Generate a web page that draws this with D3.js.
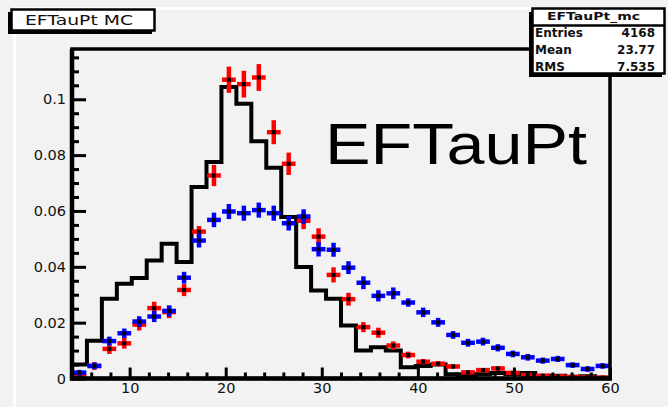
<!DOCTYPE html>
<html>
<head>
<meta charset="utf-8">
<script src="https://cdn.jsdelivr.net/npm/d3@7"></script>
<style>
  html, body { margin: 0; padding: 0; background: #f2f2f2; }
  svg { display: block; }
</style>
</head>
<body>
<svg id="chart" width="668" height="407"></svg>
<script>
// Binning of the EFTauPt histograms (GeV)
const xMin = 4, xMax = 60, nBins = 36;

// MC reference histogram (black step line)
const mcValues = [
  0.0050, 0.0135, 0.0286, 0.0339, 0.0360, 0.0423, 0.0483, 0.0417, 0.0686, 0.0775,
  0.1044, 0.0984, 0.0850, 0.0755, 0.0578, 0.0399, 0.0315, 0.0286, 0.0190, 0.0100,
  0.0112, 0.0100, 0.0040, 0.0045, 0.0050, 0.0015, 0.0010, 0.0015, 0.0020, 0.0015,
  0.0020, 0.0008, 0.0010, 0.0005, 0.0008, 0.0003
];

// Red points with vertical errors
const redValues = [
  0.0009, 0.0045, 0.0106, 0.0126, 0.0193, 0.0252, 0.0238, 0.0317, 0.0526, 0.0727,
  0.1070, 0.1054, 0.1078, 0.0882, 0.0769, 0.0565, 0.0508, 0.0371, 0.0284, 0.0184,
  0.0164, 0.0118, 0.0084, 0.0060, 0.0053, 0.0043, 0.0022, 0.0030, 0.0036, 0.0020,
  0.0012, 0.0010, 0.0008, 0.0006, 0.0004, 0.0003
];
const redErrors = [
  0.0006, 0.0014, 0.0018, 0.0019, 0.0021, 0.0023, 0.0022, 0.0022, 0.0020, 0.0038,
  0.0047, 0.0048, 0.0048, 0.0043, 0.0040, 0.0030, 0.0030, 0.0027, 0.0023, 0.0018,
  0.0018, 0.0015, 0.0012, 0.0010, 0.0009, 0.0008, 0.0006, 0.0007, 0.0008, 0.0006,
  0.0005, 0.0004, 0.0004, 0.0003, 0.0003, 0.0002
];

// Blue points with vertical errors
const blueValues = [
  0.0021, 0.0045, 0.0134, 0.0162, 0.0204, 0.0222, 0.0242, 0.0361, 0.0494, 0.0568,
  0.0598, 0.0592, 0.0603, 0.0592, 0.0556, 0.0580, 0.0463, 0.0461, 0.0397, 0.0343,
  0.0296, 0.0305, 0.0272, 0.0237, 0.0201, 0.0156, 0.0128, 0.0132, 0.0110, 0.0088,
  0.0076, 0.0064, 0.0070, 0.0048, 0.0034, 0.0045
];
const blueErrors = [
  0.0010, 0.0012, 0.0016, 0.0017, 0.0019, 0.0020, 0.0020, 0.0021, 0.0025, 0.0026,
  0.0027, 0.0027, 0.0027, 0.0027, 0.0026, 0.0026, 0.0026, 0.0025, 0.0023, 0.0023,
  0.0020, 0.0021, 0.0015, 0.0017, 0.0016, 0.0014, 0.0014, 0.0014, 0.0013, 0.0012,
  0.0012, 0.0011, 0.0011, 0.0010, 0.0010, 0.0010
];

// Axis ticks
const xMajorTicks = [10, 20, 30, 40, 50, 60];
const xMinorTicks = [6, 8, 12, 14, 16, 18, 22, 24, 26, 28, 32, 34, 36, 38, 42, 44, 46, 48, 52, 54, 56, 58];
const yMajorTicks = [0, 0.02, 0.04, 0.06, 0.08, 0.1];
const yTickLabels = ["0", "0.02", "0.04", "0.06", "0.08", "0.1"];
const yMinorTicks = [0.005, 0.01, 0.015, 0.025, 0.03, 0.035, 0.045, 0.05, 0.055, 0.065, 0.07, 0.075, 0.085, 0.09, 0.095, 0.105, 0.11, 0.115];

// Titles and statistics
const padTitle = "EFTauPt MC";
const bigLabel = "EFTauPt";
const statsTitle = "EFTauPt_mc";
const statsNames = ["Entries", "Mean", "RMS"];
const statsValues = ["4168", "23.77", "7.535"];

const svg = d3.select("#chart");
const W = 668, H = 407;
const frame = { left: 72, right: 610, top: 49, bottom: 378.5 };

const x = d3.scaleLinear().domain([xMin, xMax]).range([frame.left, frame.right]);
const y = d3.scaleLinear().domain([0, 0.118]).range([frame.bottom, frame.top]);

const binWidth = (xMax - xMin) / nBins;
const edges = d3.range(nBins + 1).map(i => xMin + i * binWidth);
const centers = d3.range(nBins).map(i => xMin + (i + 0.5) * binWidth);

// Canvas background and the white border line
svg.append("rect").attr("width", W).attr("height", H).attr("fill", "#f2f2f2");
svg.append("path")
  .attr("d", `M14.5,${H + 10} V8.5 H${W + 10}`)
  .attr("fill", "none").attr("stroke", "#ffffff").attr("stroke-width", 3);

// Black histogram step line
const stepPts = [[edges[0], 0]];
mcValues.forEach((v, i) => { stepPts.push([edges[i], v]); stepPts.push([edges[i + 1], v]); });
stepPts.push([edges[nBins], 0]);
svg.append("path")
  .attr("d", d3.line().x(d => x(d[0])).y(d => y(d[1]))(stepPts))
  .attr("fill", "none").attr("stroke", "#000").attr("stroke-width", 4)
  .attr("stroke-linejoin", "miter");

// Points drawn as error-bar crosses with a black centre marker
function drawPoints(values, errors, color) {
  const g = svg.append("g");
  const pts = g.selectAll("g").data(values.map((v, i) => ({ c: centers[i], v, e: errors[i] })))
    .enter().append("g");
  pts.append("line")
    .attr("x1", d => x(d.c - binWidth * 0.46)).attr("x2", d => x(d.c + binWidth * 0.46))
    .attr("y1", d => y(d.v)).attr("y2", d => y(d.v))
    .attr("stroke", color).attr("stroke-width", 4.5);
  pts.append("line")
    .attr("x1", d => x(d.c)).attr("x2", d => x(d.c))
    .attr("y1", d => y(Math.max(0, d.v - d.e))).attr("y2", d => y(d.v + d.e))
    .attr("stroke", color).attr("stroke-width", 4.5);
  pts.append("rect")
    .attr("x", d => x(d.c) - 2).attr("y", d => y(d.v) - 2)
    .attr("width", 4).attr("height", 4).attr("fill", "#000");
}
drawPoints(redValues, redErrors, "#ff0000");
drawPoints(blueValues, blueErrors, "#0000ff");

// Frame
svg.append("rect")
  .attr("x", frame.left).attr("y", frame.top)
  .attr("width", frame.right - frame.left).attr("height", frame.bottom - frame.top)
  .attr("fill", "none").attr("stroke", "#000").attr("stroke-width", 3.5);
svg.append("line").attr("x1", frame.left).attr("x2", frame.left)
  .attr("y1", frame.top).attr("y2", frame.bottom + 2)
  .attr("stroke", "#000").attr("stroke-width", 4.5);
svg.append("line").attr("x1", frame.left - 2).attr("x2", frame.right + 2)
  .attr("y1", frame.bottom).attr("y2", frame.bottom)
  .attr("stroke", "#000").attr("stroke-width", 4.5);

const tickFont = "'DejaVu Sans', sans-serif";

// Y axis: major ticks with labels, minor ticks
const yAxis = svg.append("g").attr("transform", `translate(${frame.left},0)`)
  .call(d3.axisLeft(y).tickValues(yMajorTicks).tickSize(-14).tickPadding(6)
    .tickFormat((d, i) => yTickLabels[i]));
svg.append("g").attr("transform", `translate(${frame.left},0)`)
  .call(d3.axisLeft(y).tickValues(yMinorTicks).tickSize(-7).tickFormat(""))
  .call(g => g.select(".domain").remove())
  .selectAll("line").attr("stroke", "#000").attr("stroke-width", 3);
yAxis.select(".domain").remove();
yAxis.selectAll("line").attr("stroke", "#000").attr("stroke-width", 3);
yAxis.selectAll("text").attr("font-family", tickFont).attr("font-size", 14.5).attr("fill", "#111");

// X axis: major ticks with labels, minor ticks
const xAxis = svg.append("g").attr("transform", `translate(0,${frame.bottom})`)
  .call(d3.axisBottom(x).tickValues(xMajorTicks).tickSize(-11).tickPadding(4).tickFormat(d3.format("d")));
svg.append("g").attr("transform", `translate(0,${frame.bottom})`)
  .call(d3.axisBottom(x).tickValues(xMinorTicks).tickSize(-6).tickFormat(""))
  .call(g => g.select(".domain").remove())
  .selectAll("line").attr("stroke", "#000").attr("stroke-width", 3);
xAxis.select(".domain").remove();
xAxis.selectAll("line").attr("stroke", "#000").attr("stroke-width", 3);
xAxis.selectAll("text").attr("font-family", tickFont).attr("font-size", 14.5).attr("fill", "#111");

// Large label inside the frame
svg.append("text")
  .attr("x", 325).attr("y", 163.5)
  .attr("font-family", "'Liberation Sans', Arial, sans-serif").attr("font-size", 58)
  .attr("textLength", 262).attr("lengthAdjust", "spacingAndGlyphs")
  .attr("fill", "#000").text(bigLabel);

// Title pave with shadow
svg.append("rect").attr("x", 8).attr("y", 12).attr("width", 144).attr("height", 22).attr("fill", "#000");
svg.append("rect").attr("x", 11.5).attr("y", 9.5).attr("width", 143).attr("height", 21)
  .attr("fill", "#ffffff").attr("stroke", "#000").attr("stroke-width", 2.5);
svg.append("text")
  .attr("x", 25).attr("y", 25)
  .attr("font-family", tickFont).attr("font-size", 14.5)
  .attr("textLength", 108).attr("lengthAdjust", "spacingAndGlyphs")
  .attr("fill", "#111").text(padTitle);

// Statistics box with shadow
svg.append("rect").attr("x", 529).attr("y", 12).attr("width", 133).attr("height", 65).attr("fill", "#000");
svg.append("rect").attr("x", 532.5).attr("y", 8.5).attr("width", 132).attr("height", 65)
  .attr("fill", "#ffffff").attr("stroke", "#000").attr("stroke-width", 2.5);
svg.append("line").attr("x1", 532.5).attr("x2", 664.5).attr("y1", 25.5).attr("y2", 25.5)
  .attr("stroke", "#000").attr("stroke-width", 2.5);
svg.append("text")
  .attr("x", 547).attr("y", 20)
  .attr("font-family", tickFont).attr("font-weight", "bold").attr("font-size", 11)
  .attr("textLength", 93).attr("lengthAdjust", "spacingAndGlyphs")
  .attr("fill", "#111").text(statsTitle);
const rowBase = [37, 54, 71];
statsNames.forEach((name, i) => {
  svg.append("text").attr("x", 535).attr("y", rowBase[i])
    .attr("font-family", tickFont).attr("font-weight", "bold").attr("font-size", 12)
    .attr("fill", "#111").text(name);
  svg.append("text").attr("x", 655).attr("y", rowBase[i]).attr("text-anchor", "end")
    .attr("font-family", tickFont).attr("font-weight", "bold").attr("font-size", 12)
    .attr("fill", "#111").text(statsValues[i]);
});
</script>
</body>
</html>
